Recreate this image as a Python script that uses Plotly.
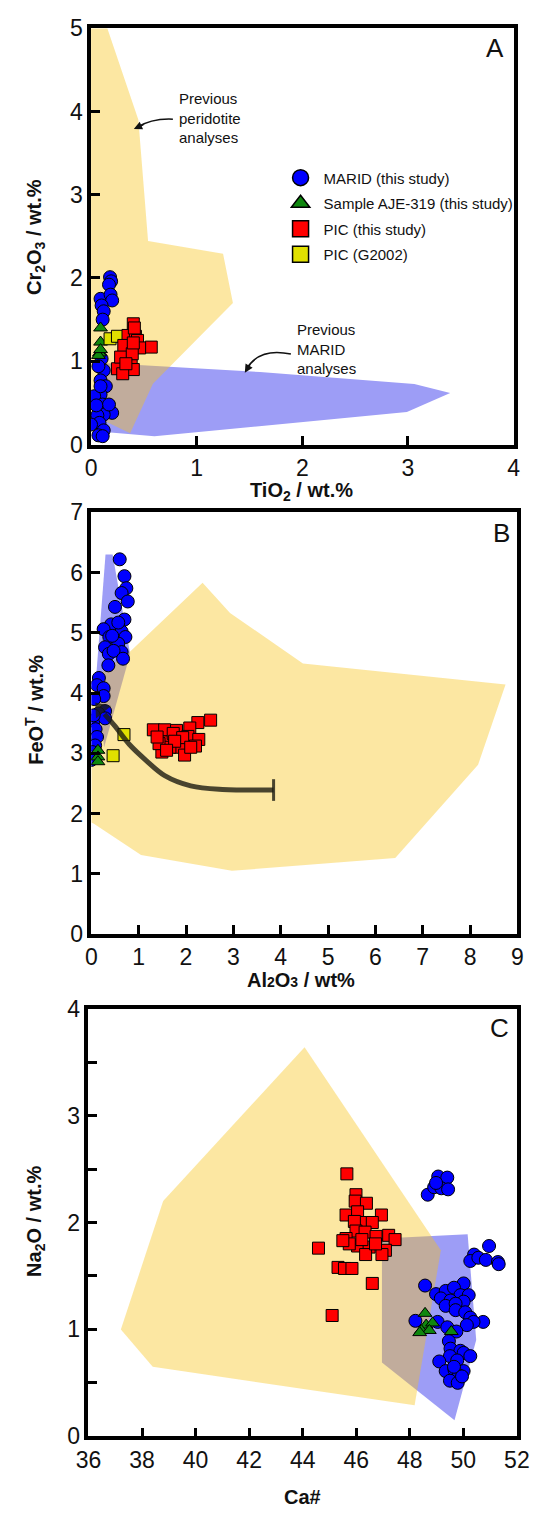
import plotly.graph_objects as go

W, H = 538, 1523
FONT = "Liberation Sans, Arial, sans-serif"

# ---------------- Panel A: TiO2 vs Cr2O3 ----------------
a_marid_ti = [0.18, 0.19, 0.17, 0.09, 0.185, 0.2, 0.1, 0.12, 0.11, 0.1, 0.12, 0.07, 0.09, 0.14,
              0.09, 0.03, 0.11, 0.16, 0.2, 0.12, 0.06, 0.08, 0.0, 0.12, 0.07, 0.11, 0.17, 0.05, 0.09]
a_marid_cr = [2.01, 1.96, 1.92, 1.75, 1.8, 1.73, 1.67, 1.6, 1.5, 1.03, 0.89, 0.94, 0.77, 0.7,
              0.6, 0.58, 0.48, 0.43, 0.38, 0.36, 0.35, 0.26, 0.24, 0.17, 0.11, 0.1, 0.48, 0.47, 0.7]
a_aje_ti = [0.09, 0.09, 0.08, 0.07, 0.09]
a_aje_cr = [1.4, 1.23, 1.1, 1.07, 1.14]
a_pic_ti = [0.4, 0.35, 0.42, 0.44, 0.57, 0.46, 0.34, 0.31, 0.355, 0.25, 0.38, 0.4, 0.3, 0.28,
            0.39, 0.41, 0.33, 0.4]
a_pic_cr = [1.45, 1.31, 1.3, 1.25, 1.17, 1.16, 1.13, 1.19, 1.03, 0.91, 0.95, 0.9, 0.85, 1.05,
            1.09, 1.4, 0.97, 1.22]
a_g2002_ti = [0.18, 0.25]
a_g2002_cr = [1.27, 1.3]
a_perid_ti = [0.0, 0.154, 0.448, 0.54, 1.25, 1.343, 0.586, 0.37, 0.1, 0.0]
a_perid_cr = [5.0, 5.0, 3.9, 2.445, 2.29, 1.70, 0.73, 0.134, 0.3, 0.35]
a_prevmarid_ti = [0.12, 1.6, 3.06, 3.4, 2.99, 0.6, 0.185, 0.08]
a_prevmarid_cr = [0.98, 0.87, 0.727, 0.62, 0.39, 0.098, 0.145, 0.2]

# ---------------- Panel B: Al2O3 vs FeOT ----------------
b_marid_al = [0.6, 0.7, 0.74, 0.64, 0.77, 0.5, 0.7, 0.42, 0.26, 0.64, 0.38, 0.72, 0.57, 0.29,
              0.64, 0.37, 0.47, 0.36, 0.67, 0.16, 0.12, 0.26, 0.26, 0.06, 0.29, 0.15, 0.05, 0.29,
              0.09, 0.12, 0.08, 0.02, 0.0, 0.05, 0.44, 0.57]
b_marid_fe = [6.22, 5.94, 5.74, 5.66, 5.52, 5.43, 5.22, 5.14, 5.06, 5.02, 4.93, 4.93, 4.82, 4.76,
              4.68, 4.65, 4.7, 4.46, 4.57, 4.25, 4.13, 4.08, 3.95, 3.9, 3.7, 3.66, 3.54, 3.58,
              3.4, 3.27, 3.13, 3.02, 2.89, 3.63, 4.95, 5.17]
b_aje_al = [0.14, 0.14, 0.14]
b_aje_fe = [3.05, 2.94, 2.86]
b_pic_al = [1.31, 1.55, 1.8, 2.25, 2.52, 2.08, 2.04, 2.27, 1.55, 1.87, 1.49, 1.97, 1.66, 1.43,
            2.2, 1.73, 1.39, 1.93, 2.1, 1.76, 1.59]
b_pic_fe = [3.39, 3.39, 3.38, 3.51, 3.55, 3.42, 3.28, 3.23, 3.19, 3.1, 3.02, 2.97, 3.1, 3.16,
            3.12, 3.33, 3.27, 3.26, 3.1, 3.2, 3.05]
b_g2002_al = [0.69, 0.46]
b_g2002_fe = [3.31, 2.96]
b_perid_al = [0.055, 1.05, 2.97, 6.42, 8.17, 8.75, 4.47, 2.93, 2.35, 0.81, 0.15, 0.0, 0.0]
b_perid_fe = [1.83, 1.31, 1.05, 1.26, 2.81, 4.14, 4.49, 5.33, 5.83, 4.68, 4.3, 4.2, 1.85]
b_prevmarid_al = [0.3, 0.45, 0.82, 0.27, 0.1]
b_prevmarid_fe = [6.3, 6.3, 4.65, 3.1, 4.25]
# trend arrow drawn across panel B: shaft, head (centre, rotation) and end bar
b_trend_al = [3.85, 2.77, 2.1, 1.55, 1.16, 0.8, 0.5, 0.28]
b_trend_fe = [2.39, 2.40, 2.46, 2.63, 2.88, 3.15, 3.45, 3.65]
b_trend_head = (0.2, 3.735, -40)
b_trend_bar = (3.85, 2.21, 2.57)

# ---------------- Panel C: Ca# vs Na2O ----------------
c_marid_ca = [48.67, 48.91, 49.06, 49.4, 49.18, 49.43, 48.98,
              50.96, 50.4, 50.26, 50.56, 50.84, 51.29, 51.32,
              48.57, 50.01, 48.98, 49.34, 49.65, 49.89, 50.2, 49.16, 49.52, 50.01, 49.34, 49.71,
              49.71, 50.07, 50.26, 50.74, 50.38, 50.13, 48.21, 49.04, 49.4, 49.74, 49.46, 49.52,
              49.89, 50.01, 50.26, 49.5, 49.1, 49.77, 49.34, 49.67, 50.01, 49.83, 49.5, 49.79,
              49.65, 49.95]
c_marid_na = [2.26, 2.33, 2.43, 2.42, 2.32, 2.31, 2.37,
              1.78, 1.70, 1.64, 1.67, 1.65, 1.63, 1.61,
              1.41, 1.43, 1.33, 1.36, 1.39, 1.32, 1.32, 1.29, 1.27, 1.26, 1.22, 1.24,
              1.18, 1.16, 1.11, 1.07, 1.07, 1.04, 1.08, 1.07, 1.02, 0.98, 0.89, 0.82,
              0.80, 0.78, 0.75, 0.75, 0.70, 0.71, 0.61, 0.62, 0.61, 0.57, 0.52, 0.50,
              0.65, 0.56]
c_aje_ca = [48.57, 48.61, 48.85, 48.43, 48.73, 49.55, 48.37]
c_aje_na = [1.15, 1.04, 1.06, 0.99, 0.99, 0.98, 0.97]
c_pic_ca = [45.65, 45.99, 45.96, 46.38, 45.62, 46.05, 46.94, 46.29, 45.93, 46.6, 45.99, 46.33,
            46.74, 47.21, 45.62, 47.45, 46.05, 46.48, 47.09, 46.35, 46.96, 45.74, 45.5, 44.59,
            45.32, 45.56, 45.84, 46.6, 45.1, 46.72, 46.21]
c_pic_na = [2.455, 2.26, 2.2, 2.18, 2.07, 2.1, 2.07, 2.0, 2.01, 2.0, 1.92, 1.91,
            1.87, 1.88, 1.85, 1.84, 1.78, 1.77, 1.74, 1.70, 1.70, 1.80, 1.83, 1.76,
            1.58, 1.57, 1.57, 1.43, 1.13, 1.80, 1.84]
c_perid_ca = [37.21, 38.79, 44.07, 49.16, 48.18, 38.4]
c_perid_na = [1.0, 2.2, 3.64, 1.74, 0.29, 0.65]
c_prevmarid_ca = [46.96, 50.16, 50.48, 49.67, 46.96]
c_prevmarid_na = [1.85, 1.89, 0.9, 0.15, 0.69]

# ---------------- styling ----------------
BLUE_FILL = "#9d9df6"
YELLOW_FILL = "rgba(247,195,22,0.40)"
ARROW_COL = "rgba(28,28,18,0.80)"
SERIES = {
    "marid": dict(name="MARID (this study)", symbol="circle", color="#0000ff"),
    "aje": dict(name="Sample AJE-319 (this study)", symbol="triangle-up", color="#0f870f"),
    "pic": dict(name="PIC (this study)", symbol="square", color="#ff0000"),
    "g2002": dict(name="PIC (G2002)", symbol="square", color="#e0e000"),
}


def px2x(p):
    return p / W


def px2y(p):
    return 1 - p / H


fig = go.Figure()


def region(xs, ys, color, ax):
    fig.add_trace(go.Scatter(x=xs + xs[:1], y=ys + ys[:1], mode="lines", fill="toself",
                             fillcolor=color, line=dict(width=0), hoverinfo="skip",
                             showlegend=False, xaxis="x" + ax, yaxis="y" + ax))


def points(key, xs, ys, ax, size):
    s = SERIES[key]
    fig.add_trace(go.Scatter(x=xs, y=ys, mode="markers", name=s["name"], showlegend=False,
                             marker=dict(symbol=s["symbol"], color=s["color"], size=size,
                                         line=dict(color="black", width=1)),
                             xaxis="x" + ax, yaxis="y" + ax))


# Panel A
region(a_prevmarid_ti, a_prevmarid_cr, BLUE_FILL, "")
region(a_perid_ti, a_perid_cr, YELLOW_FILL, "")
points("marid", a_marid_ti, a_marid_cr, "", 13)
points("aje", a_aje_ti, a_aje_cr, "", 12)
points("g2002", a_g2002_ti, a_g2002_cr, "", 12)
points("pic", a_pic_ti, a_pic_cr, "", 12)

# Panel B
region(b_prevmarid_al, b_prevmarid_fe, BLUE_FILL, "2")
region(b_perid_al, b_perid_fe, YELLOW_FILL, "2")
points("marid", b_marid_al, b_marid_fe, "2", 13)
points("aje", b_aje_al, b_aje_fe, "2", 12)
points("g2002", b_g2002_al, b_g2002_fe, "2", 12)
points("pic", b_pic_al, b_pic_fe, "2", 12)
fig.add_trace(go.Scatter(x=b_trend_al, y=b_trend_fe, mode="lines",
                         line=dict(color=ARROW_COL, width=5, shape="spline"),
                         showlegend=False, hoverinfo="skip", xaxis="x2", yaxis="y2"))
fig.add_trace(go.Scatter(x=[b_trend_head[0]], y=[b_trend_head[1]], mode="markers",
                         marker=dict(symbol="triangle-up", size=17, angle=b_trend_head[2],
                                     color=ARROW_COL, line=dict(width=0)),
                         showlegend=False, hoverinfo="skip", xaxis="x2", yaxis="y2"))
fig.add_trace(go.Scatter(x=[b_trend_bar[0], b_trend_bar[0]], y=[b_trend_bar[1], b_trend_bar[2]],
                         mode="lines", line=dict(color=ARROW_COL, width=3),
                         showlegend=False, hoverinfo="skip", xaxis="x2", yaxis="y2"))

# Panel C
region(c_prevmarid_ca, c_prevmarid_na, BLUE_FILL, "3")
region(c_perid_ca, c_perid_na, YELLOW_FILL, "3")
points("pic", c_pic_ca, c_pic_na, "3", 12)
points("marid", c_marid_ca, c_marid_na, "3", 13)
points("aje", c_aje_ca, c_aje_na, "3", 12)

# legend entries (large symbols)
for key in ["marid", "aje", "pic", "g2002"]:
    s = SERIES[key]
    fig.add_trace(go.Scatter(x=[None], y=[None], mode="markers", name=s["name"],
                             legendgroup=key, showlegend=True,
                             marker=dict(symbol=s["symbol"], color=s["color"], size=20,
                                         line=dict(color="black", width=1.5))))

axis_common = dict(showline=True, mirror=True, linecolor="black", linewidth=3.5,
                   ticks="inside", ticklen=9, tickwidth=3, tickcolor="black",
                   showgrid=False, zeroline=False, fixedrange=True,
                   tickfont=dict(family=FONT, size=23, color="#111"))

fig.update_layout(
    width=W, height=H, margin=dict(l=0, r=0, t=0, b=0),
    paper_bgcolor="white", plot_bgcolor="white",
    font=dict(family=FONT, color="#111"),
    xaxis=dict(domain=[px2x(82), px2x(526)], range=[0, 4], tickvals=[0, 1, 2, 3, 4],
               anchor="y", **axis_common),
    yaxis=dict(domain=[px2y(439), px2y(15.5)], range=[0, 5], tickvals=[0, 1, 2, 3, 4, 5],
               anchor="x", **axis_common),
    xaxis2=dict(domain=[px2x(82.3), px2x(530)], range=[0, 9], tickvals=list(range(10)),
                anchor="y2", **axis_common),
    yaxis2=dict(domain=[px2y(937), px2y(508)], range=[0, 7], tickvals=list(range(8)),
                anchor="x2", **axis_common),
    xaxis3=dict(domain=[px2x(79.3), px2x(529.5)], range=[36, 52],
                tickvals=list(range(36, 53, 2)), anchor="y3", **axis_common),
    yaxis3=dict(domain=[px2y(1448), px2y(1013)], range=[0, 4],
                tickvals=[0, 0.5, 1, 1.5, 2, 2.5, 3, 3.5, 4],
                ticktext=["0", "", "1", "", "2", "", "3", "", "4"], anchor="x3", **axis_common),
    legend=dict(x=px2x(278), y=px2y(151), xanchor="left", yanchor="top",
                bgcolor="rgba(0,0,0,0)", font=dict(family=FONT, size=15, color="#111"),
                tracegroupgap=3, itemwidth=36),
)

ann = []


def label(text, x, y, size, bold=False, angle=0, xanchor="center", yanchor="middle", align="center"):
    ann.append(dict(text=("<b>%s</b>" % text) if bold else text, x=px2x(x), y=px2y(y),
                    xref="paper", yref="paper", showarrow=False, textangle=angle,
                    xanchor=xanchor, yanchor=yanchor, align=align,
                    font=dict(family=FONT, size=size, color="#111")))


# axis titles
label("TiO<sub>2</sub> / wt.%", 303, 487, 20, bold=True)
label("Cr<sub>2</sub>O<sub>3</sub> / wt.%", 23, 228, 20, bold=True, angle=-90)
label("Al<span style='font-size:14px'>2</span>O<span style='font-size:14px'>3</span> / wt%",
      303, 984, 20, bold=True)
label("FeO<sup>T</sup> / wt.%", 23, 709, 20, bold=True, angle=-90)
label("Ca#", 304, 1510, 20, bold=True)
label("Na<sub>2</sub>O / wt.%", 23, 1229, 20, bold=True, angle=-90)

# panel letters
label("A", 507, 36, 26)
label("B", 513, 529, 26)
label("C", 511, 1033, 26)

# region labels
label("Previous<br>peridotite<br>analyses", 172, 76, 15, xanchor="left", yanchor="top", align="left")
label("Previous<br>MARID<br>analyses", 296, 311, 15, xanchor="left", yanchor="top", align="left")

# arrow heads for the region labels
ann.append(dict(x=px2x(127), y=px2y(118), ax=11, ay=-5, xref="paper", yref="paper",
                axref="pixel", ayref="pixel", text="", showarrow=True, arrowhead=2,
                arrowsize=1.1, arrowwidth=1.5, arrowcolor="#111"))
ann.append(dict(x=px2x(243.6), y=px2y(366), ax=6, ay=-10, xref="paper", yref="paper",
                axref="pixel", ayref="pixel", text="", showarrow=True, arrowhead=2,
                arrowsize=1.1, arrowwidth=1.5, arrowcolor="#111"))
fig.update_layout(annotations=ann)

# curved arrow shafts
fig.add_shape(type="path", xref="paper", yref="paper",
              path="M %f %f Q %f %f %f %f" % (px2x(168), px2y(108), px2x(146), px2y(107),
                                              px2x(130), px2y(116.5)),
              line=dict(color="#111", width=1.5))
fig.add_shape(type="path", xref="paper", yref="paper",
              path="M %f %f Q %f %f %f %f" % (px2x(292), px2y(347), px2x(258), px2y(340),
                                              px2x(245), px2y(363)),
              line=dict(color="#111", width=1.5))

fig.write_html("out.html")
